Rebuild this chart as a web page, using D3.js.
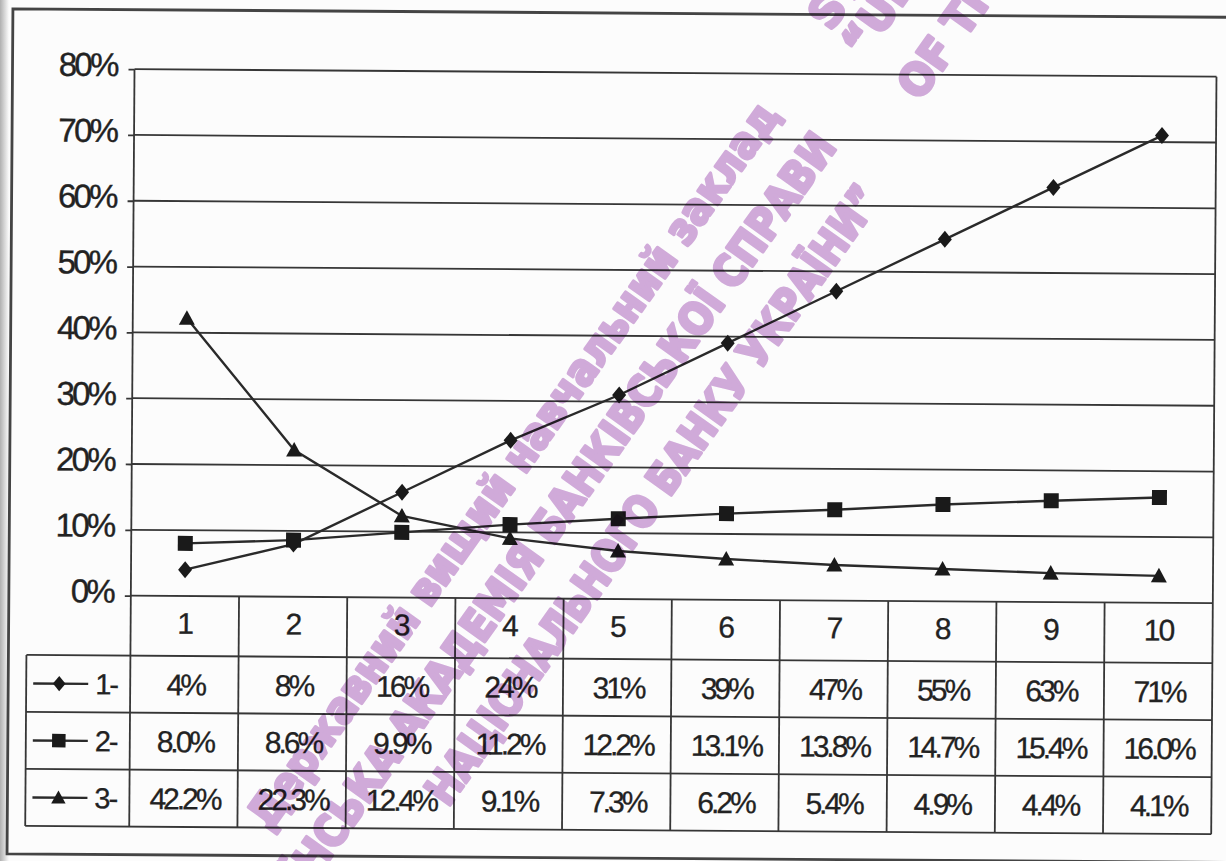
<!DOCTYPE html>
<html><head><meta charset="utf-8">
<script src="https://cdn.jsdelivr.net/npm/d3@7"></script>
<style>
html,body{margin:0;padding:0;background:#fcfcfc;}
svg{display:block;}
</style></head><body>
<svg id="chart" width="1226" height="861"></svg>
<script>
// ---- data ----
const categories = ["1","2","3","4","5","6","7","8","9","10"];
const seriesNames = ["1-","2-","3-"];
const series1 = [4,8,16,24,31,39,47,55,63,71];
const series2 = [8.0,8.6,9.9,11.2,12.2,13.1,13.8,14.7,15.4,16.0];
const series3 = [42.2,22.3,12.4,9.1,7.3,6.2,5.4,4.9,4.4,4.1];
const seriesDecimals = [0,1,1];
const seriesMarkers = ["diamond","square","triangle"];
const yTicks = [0,10,20,30,40,50,60,70,80];
const watermarkUA = ["Державний вищий навчальний заклад","“УКРАЇНСЬКА АКАДЕМІЯ БАНКІВСЬКОЇ СПРАВИ","НАЦІОНАЛЬНОГО БАНКУ УКРАЇНИ”"];
const watermarkEN = ["STATE HIGHER EDUCATIONAL INSTITUTION","“UKRAINIAN ACADEMY OF BANKING","OF THE NATIONAL BANK OF UKRAINE”"];

const allSeries = [series1, series2, series3];

// ---- layout ----
const svg = d3.select("#chart");
const L = 132, R = 1214, T = 72.5, B = 599;
const rowY = [599, 659, 716, 773, 830];
const legendLeft = 28;
const ink = "#222";
const lineInk = "#363636";
const font = "'Liberation Sans', Arial, sans-serif";

// scan shadow on left edge
const defs = svg.append("defs");
const lg = defs.append("linearGradient").attr("id","edge").attr("x1",0).attr("x2",1);
lg.append("stop").attr("offset",0).attr("stop-color","#b0b0b0");
lg.append("stop").attr("offset",1).attr("stop-color","#fcfcfc");
svg.append("rect").attr("x",0).attr("y",0).attr("width",9).attr("height",861).attr("fill","url(#edge)");

const g = svg.append("g").attr("transform","rotate(0.4,613,430)");

// outer frame
g.append("path").attr("d","M1240,13 H10 V858 H1240")
  .attr("fill","none").attr("stroke","#444").attr("stroke-width",2.8);

const x = d3.scaleBand().domain(categories).range([L, R]).padding(0);
const y = d3.scaleLinear().domain([0, 80]).range([B, T]);
const cx = c => x(c) + x.bandwidth()/2;

// gridlines
g.append("g").selectAll("line").data(yTicks).join("line")
  .attr("x1", L).attr("x2", R)
  .attr("y1", d => y(d)).attr("y2", d => y(d))
  .attr("stroke", lineInk).attr("stroke-width", 1.8);

// y axis
const yAxis = g.append("g").attr("transform", `translate(${L},0)`)
  .call(d3.axisLeft(y).tickValues(yTicks).tickSize(6).tickPadding(12).tickFormat(d => d + "%"));
yAxis.select(".domain").remove();
yAxis.selectAll(".tick line").attr("stroke", lineInk).attr("stroke-width", 1.8);
yAxis.selectAll(".tick text")
  .attr("font-family", font).attr("font-size", 33).attr("fill", ink)
  .attr("stroke", ink).attr("stroke-width", 0.4)
  .attr("letter-spacing", "-2.8px").attr("dy", "0.26em").attr("y", -2);

// vertical lines: axis, column boundaries, right border
const bounds = categories.map(c => x(c)).concat([R]);
g.append("g").selectAll("line").data(bounds).join("line")
  .attr("x1", d => d).attr("x2", d => d)
  .attr("y1", (d,i) => (i === 0 || i === bounds.length-1) ? T : B)
  .attr("y2", rowY[4])
  .attr("stroke", lineInk).attr("stroke-width", 1.8);

// table horizontal lines
g.append("g").selectAll("line").data(rowY.slice(1)).join("line")
  .attr("x1", legendLeft).attr("x2", R)
  .attr("y1", d => d).attr("y2", d => d)
  .attr("stroke", lineInk).attr("stroke-width", 1.8);
g.append("line").attr("x1", legendLeft).attr("x2", legendLeft)
  .attr("y1", rowY[1]).attr("y2", rowY[4])
  .attr("stroke", lineInk).attr("stroke-width", 1.8);

// category labels
g.append("g").selectAll("text").data(categories).join("text")
  .attr("x", d => cx(d)).attr("y", (rowY[0]+rowY[1])/2 - 3)
  .attr("dy", "0.36em").attr("text-anchor", "middle")
  .attr("font-family", font).attr("font-size", 30).attr("fill", ink)
  .attr("stroke", ink).attr("stroke-width", 0.3)
  .attr("letter-spacing", "-2px").text(d => d);

// marker shapes
function markerPath(type, s) {
  if (type === "diamond") return `M0,${-8.5*s}L${7*s},0L0,${8.5*s}L${-7*s},0Z`;
  if (type === "square") return `M${-7.5*s},${-7.5*s}h${15*s}v${15*s}h${-15*s}Z`;
  return `M0,${-8*s}L${8*s},${6.5*s}L${-8*s},${6.5*s}Z`;
}

// series lines and markers
const line = d3.line().x((d,i) => cx(categories[i])).y(d => y(d));
allSeries.forEach((vals, si) => {
  g.append("path").datum(vals).attr("d", line)
    .attr("fill", "none").attr("stroke", "#2a2a2a").attr("stroke-width", 2.4);
  g.append("g").selectAll("path").data(vals).join("path")
    .attr("transform", (d,i) => `translate(${cx(categories[i])},${y(d)})`)
    .attr("d", markerPath(seriesMarkers[si], 1))
    .attr("fill", "#1a1a1a");
});

// data table rows
allSeries.forEach((vals, si) => {
  const top = rowY[si+1], bot = rowY[si+2];
  const mid = (top + bot) / 2;
  const fmt = d3.format(`.${seriesDecimals[si]}f`);
  g.append("g").selectAll("text").data(vals).join("text")
    .attr("x", (d,i) => cx(categories[i]) + 1).attr("y", mid)
    .attr("dy", "0.36em").attr("text-anchor", "middle")
    .attr("font-family", font).attr("font-size", 30).attr("fill", ink)
    .attr("stroke", ink).attr("stroke-width", 0.3)
    .attr("letter-spacing", "-3px").text(d => fmt(d) + "%");
  // legend key
  g.append("line").attr("x1", 35).attr("x2", 90).attr("y1", mid).attr("y2", mid)
    .attr("stroke", "#2a2a2a").attr("stroke-width", 2.4);
  g.append("path").attr("transform", `translate(61,${mid})`)
    .attr("d", markerPath(seriesMarkers[si], 0.9)).attr("fill", "#1a1a1a");
  g.append("text").attr("x", 97).attr("y", mid).attr("dy", "0.36em")
    .attr("font-family", font).attr("font-size", 29).attr("fill", ink)
    .attr("stroke", ink).attr("stroke-width", 0.3)
    .attr("letter-spacing", "-2px").text(seriesNames[si]);
});

// ---- watermark ----
const wm = svg.append("g").style("mix-blend-mode", "multiply");
const wmFont = "'DejaVu Sans Condensed', 'DejaVu Sans', sans-serif";
const wmColor = "#d3acdc";
const angle = -54.5;
const uaPos = [[270, 832, 880], [225, 1006, 1055], [448, 808, 748]];
watermarkUA.forEach((t, i) => {
  wm.append("text")
    .attr("transform", `translate(${uaPos[i][0]},${uaPos[i][1]}) rotate(${angle})`)
    .attr("font-family", wmFont).attr("font-weight", "bold").attr("font-stretch", "condensed")
    .attr("font-size", 44).attr("fill", wmColor)
    .attr("stroke", wmColor).attr("stroke-width", 3.2).attr("stroke-linejoin", "round")
    .attr("textLength", uaPos[i][2]).attr("lengthAdjust", "spacingAndGlyphs")
    .text(t);
});
const enPos = [[831, 32, 1000], [864, 60, 860], [920, 102, 880]];
watermarkEN.forEach((t, i) => {
  wm.append("text")
    .attr("transform", `translate(${enPos[i][0]},${enPos[i][1]}) rotate(${angle})`)
    .attr("font-family", wmFont).attr("font-weight", "bold").attr("font-stretch", "condensed")
    .attr("font-size", 44).attr("fill", wmColor)
    .attr("stroke", wmColor).attr("stroke-width", 3.2).attr("stroke-linejoin", "round")
    .attr("textLength", enPos[i][2]).attr("lengthAdjust", "spacingAndGlyphs")
    .text(t);
});
</script>
</body></html>
